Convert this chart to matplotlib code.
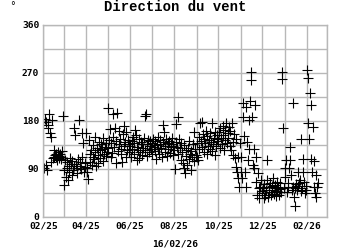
import numpy as np
import pandas as pd
import matplotlib
matplotlib.use('Agg')
import matplotlib.pyplot as plt

# valeurs journalieres de direction du vent (degres), lues mois par mois
feb25 = [178, 92, 184, 98, 178, 88, 167, 172, 193, 157, 150, 103, 182, 111, 126, 112, 116, 118, 112, 107,
         122, 115, 110, 119, 113, 108, 124, 190]
mar25 = [88, 60, 107, 75, 92, 103, 69, 96, 85, 110, 99, 78, 105, 88, 95, 167, 154, 100, 91, 82,
         108, 182, 103, 96, 90, 112, 157, 139, 84, 101, 94]
apr25 = [157, 92, 84, 71, 144, 103, 118, 126, 98, 112, 135, 108, 150, 121, 95, 130, 117, 101, 140, 125,
         111, 136, 128, 105, 148, 119, 132, 115, 139, 122]
may25 = [205, 129, 144, 165, 112, 138, 120, 193, 150, 131, 167, 101, 142, 195, 124, 161, 136, 147, 118, 128,
         103, 155, 133, 171, 140, 159, 112, 126, 145, 137, 121]
jun25 = [134, 112, 143, 127, 150, 119, 138, 163, 154, 107, 131, 125, 146, 111, 122, 140, 136, 117, 129, 148,
         189, 126, 193, 114, 137, 145, 121, 133, 142, 128]
jul25 = [139, 118, 147, 131, 124, 142, 108, 135, 127, 150, 119, 137, 144, 129, 113, 141, 172, 159, 133, 122,
         146, 115, 138, 128, 143, 120, 136, 131, 148, 117, 134]
aug25 = [125, 90, 174, 141, 132, 188, 118, 146, 129, 139, 107, 121, 101, 92, 135, 82, 114, 126, 97, 130,
         108, 143, 119, 88, 124, 112, 136, 105, 159, 128, 116]
sep25 = [112, 138, 107, 150, 127, 176, 143, 178, 131, 155, 122, 147, 139, 162, 118, 151, 134, 145, 128, 158,
         141, 124, 176, 137, 149, 116, 160, 133, 146, 154]
oct25 = [142, 159, 130, 167, 148, 136, 171, 153, 125, 164, 145, 176, 138, 157, 149, 168, 133, 161, 126, 176,
         141, 116, 155, 111, 94, 147, 84, 73, 112, 56, 138]
nov25 = [84, 112, 73, 188, 214, 152, 84, 56, 206, 141, 107, 182, 127, 217, 272, 257, 188, 97, 127, 92,
         210, 66, 112, 41, 82, 54, 36, 56, 69, 48]
dec25 = [45, 54, 36, 62, 41, 51, 107, 69, 38, 56, 47, 63, 42, 58, 50, 73, 44, 54, 60, 39,
         66, 48, 57, 41, 52, 64, 46, 272, 259, 167, 54]
jan26 = [92, 75, 107, 47, 64, 56, 92, 107, 131, 79, 51, 56, 213, 38, 54, 21, 62, 51, 84, 58,
         64, 70, 48, 146, 55, 109, 84, 66, 45, 59, 50]
feb26 = [276, 176, 261, 146, 232, 109, 210, 84, 169, 56, 105, 45, 79, 38, 56, 64]

months = ['2025-02-01', '2025-03-01', '2025-04-01', '2025-05-01', '2025-06-01', '2025-07-01',
          '2025-08-01', '2025-09-01', '2025-10-01', '2025-11-01', '2025-12-01', '2026-01-01', '2026-02-01']
blocks = [feb25, mar25, apr25, may25, jun25, jul25, aug25, sep25, oct25, nov25, dec25, jan26, feb26]

dates = []
vals = []
for m, b in zip(months, blocks):
    dates.extend(pd.date_range(m, periods=len(b), freq='D'))
    vals.extend(b)

y_labels = [0, 90, 180, 270, 360]

fig = plt.figure(figsize=(3.5, 2.5), dpi=100)
ax = fig.add_axes([0.124, 0.132, 0.811, 0.768])

ax.plot(dates, vals, linestyle='none', marker='+', color='black', markersize=6.5, mew=0.8)

ax.set_ylim(0, 360)
ax.set_xlim(pd.Timestamp('2025-02-01'), pd.Timestamp('2026-03-01'))

# grille: tous les mois en x, tous les 45 degres en y
month_ticks = pd.date_range('2025-02-01', '2026-03-01', freq='MS')
ax.set_xticks(month_ticks)
ax.set_xticklabels([d.strftime('%m/%y') if i % 2 == 0 and i < 13 else '' for i, d in enumerate(month_ticks)])
ax.set_yticks(np.arange(0, 361, 45))
ax.set_yticklabels([str(v) if v in y_labels else '' for v in np.arange(0, 361, 45)])

ax.grid(True, color='#b8b8b8', linewidth=1.0)
ax.set_axisbelow(True)
for s in ax.spines.values():
    s.set_color('#b8b8b8')
    s.set_linewidth(1.0)

ax.tick_params(length=0, pad=3)
for lab in ax.get_xticklabels() + ax.get_yticklabels():
    lab.set_fontfamily('DejaVu Sans Mono')
    lab.set_fontweight('bold')
    lab.set_fontsize(6.8)

fig.text(0.5, 0.972, 'Direction du vent', ha='center', va='center',
         family='Liberation Mono', weight='bold', fontsize=10)
fig.text(0.037, 0.975, '°', ha='center', va='center', fontsize=7, family='DejaVu Sans')
fig.text(0.5, 0.025, '16/02/26', ha='center', va='center',
         family='DejaVu Sans Mono', weight='bold', fontsize=6.8)

fig.savefig('out.png', dpi=100)
